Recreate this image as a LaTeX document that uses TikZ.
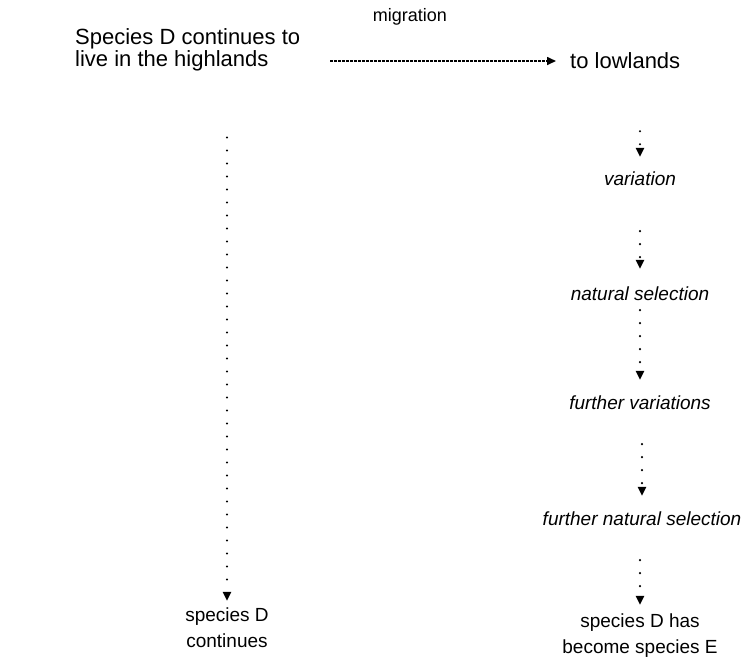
\documentclass[tikz,border=0pt]{standalone}
\usepackage{fontspec}
\setmainfont{Liberation Sans}
\usetikzlibrary{arrows.meta}
\begin{document}
\begin{tikzpicture}[x=1pt,y=-1pt,
  lbl/.style={inner sep=0pt, font=\fontsize{22}{22}\selectfont},
  ilbl/.style={inner sep=0pt, font=\fontsize{19}{21}\selectfont\itshape},
  blbl/.style={inner sep=0pt, align=center, font=\fontsize{19}{26}\selectfont},
  dotarrow/.style={line width=2.4pt, line cap=round, dash pattern=on 0pt off 13pt,
    -{Triangle[width=8pt,length=9pt]}},
  migarrow/.style={line width=1.6pt, dash pattern=on 2.5pt off 1.5pt,
    -{Triangle[width=8pt,length=9pt]}},
]
\useasboundingbox (0,0) rectangle (744,665);
% top row
\node[lbl, align=left, anchor=west] (high) at (75,50) {Species D continues to\\live in the highlands};
\node[lbl, anchor=west] (low) at (570,61) {to lowlands};
\node[inner sep=0pt, font=\fontsize{18}{20}\selectfont] (mig) at (410,17) {migration};
% right column
\node[ilbl] (var) at (640,179) {variation};
\node[ilbl] (nat) at (640,294) {natural selection};
\node[ilbl] (fvar) at (640,403) {further variations};
\node[ilbl] (fnat) at (642,519) {further natural selection};
\node[blbl] (spE) at (640,636) {species D has\\become species E};
% left column
\node[blbl] (spD) at (227,628) {species D\\continues};
% connectors
\draw[migarrow, shorten <=30pt, shorten >=14pt] (high.east |- low.west) -- (low.west);
\draw[dotarrow, shorten <=62pt, shorten >=15pt] (low.south -| var.north) -- (var.north);
\draw[dotarrow, shorten <=45pt, shorten >=18pt] (var) -- (nat);
\draw[dotarrow, shorten <=9pt, shorten >=16pt] (nat) -- (fvar);
\draw[dotarrow, shorten <=34pt, shorten >=16pt] (fvar.south -| fnat.north) -- (fnat.north);
\draw[dotarrow, shorten <=34pt, shorten >=9pt] (fnat.south -| spE.north) -- (spE.north);
\draw[dotarrow, shorten <=66pt, shorten >=7pt] (high.south -| spD.north) -- (spD.north);
\end{tikzpicture}
\end{document}
